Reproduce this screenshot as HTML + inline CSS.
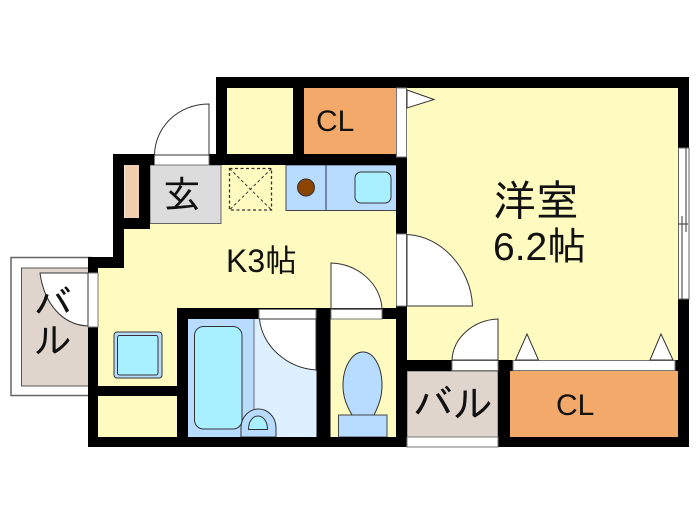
<!DOCTYPE html>
<html lang="ja"><head><meta charset="utf-8">
<style>
html,body{margin:0;padding:0;background:#fff;width:700px;height:525px;overflow:hidden}
svg{display:block}
text{font-family:"Liberation Sans","IPAGothic","Noto Sans CJK JP",sans-serif;fill:#111}
.d{fill:#fff;stroke:#333;stroke-width:1}
.g{fill:#fff;stroke:#777;stroke-width:1}
</style></head><body>
<svg width="700" height="525" viewBox="0 0 700 525" xmlns="http://www.w3.org/2000/svg">
<!-- balcony -->
<rect x="11" y="257.500" width="80" height="138" fill="#fff" stroke="#666" stroke-width="1.500"/>
<rect x="21.500" y="268" width="70" height="118" fill="#e0d5cc" stroke="#555" stroke-width="1"/>
<!-- floors -->
<polygon points="150,165 398,165 398,437 98,437 98,268 124,268 124,229 150,229" fill="#fffbc0"/>
<rect x="227" y="88" width="170" height="77" fill="#fffbc0"/>
<rect x="405" y="88" width="274" height="275" fill="#fffbc0"/>
<rect x="304" y="88" width="92.500" height="66" fill="#f2a96a"/>
<rect x="510" y="371" width="168" height="66" fill="#f2a96a"/>
<rect x="407" y="371" width="91" height="66" fill="#e0d5cc" stroke="#666" stroke-width="1"/>
<rect x="150" y="165" width="71" height="58.500" fill="#dcdcdc" stroke="#666" stroke-width="1"/>
<rect x="124.500" y="165" width="14.500" height="53" fill="#f2cfae"/>
<!-- bath -->
<rect x="188" y="319" width="130" height="118" fill="#dcf0ff"/>
<rect x="188" y="319" width="66" height="118" fill="#b8dcff"/>
<line x1="254" y1="319" x2="254" y2="410" stroke="#667" stroke-width="1"/>
<rect x="194.500" y="326.500" width="47.500" height="102.500" rx="9" fill="#a8f0ff" stroke="#333" stroke-width="1"/>
<path d="M241 437V428C241 416 250 409 258.500 409C267 409 276 416 276 428V437Z" fill="#b8dcff" stroke="#333" stroke-width="1"/>
<path d="M248.500 429.500C248.500 421 253 416 258 416C263 416 267.500 421 267.500 429.500Z" fill="#a8f0ff" stroke="#333" stroke-width="1"/>
<!-- toilet -->
<path d="M352 415C345 403 343 395 343 385C343 367 352 352 363 352C374 352 382 367 382 385C382 395 380 403 374 415Z" fill="#b8dcff" stroke="#333" stroke-width="1"/>
<rect x="338.500" y="415" width="48.500" height="22" fill="#b8dcff" stroke="#444" stroke-width="1"/>
<!-- kitchen unit -->
<rect x="286" y="165" width="110.500" height="45.500" fill="#b8dcff" stroke="#445" stroke-width="1"/>
<line x1="326" y1="165" x2="326" y2="210" stroke="#334" stroke-width="1"/>
<circle cx="306" cy="187.500" r="8.500" fill="#8b4500" stroke="#333" stroke-width="1"/>
<rect x="355" y="172" width="36" height="31" rx="6" fill="#a8f0ff" stroke="#333" stroke-width="1"/>
<!-- dashed box -->
<rect x="229.500" y="168.500" width="42" height="41.500" fill="none" stroke="#333" stroke-width="1.300" stroke-dasharray="3 2.500"/>
<path d="M229.500 168.500L271.500 210M271.500 168.500L229.500 210" fill="none" stroke="#333" stroke-width="1" stroke-dasharray="3 2.500"/>
<!-- fridge/washer -->
<rect x="114" y="332" width="48" height="46" rx="3" fill="#b8dcff" stroke="#333" stroke-width="1"/>
<rect x="117.500" y="335.500" width="40.500" height="39.500" rx="2" fill="#a8f0ff" stroke="#333" stroke-width="1"/>
<!-- walls -->
<g fill="#000">
<rect x="216" y="77" width="473" height="11"/>
<rect x="216" y="77" width="11" height="88"/>
<rect x="293" y="88" width="11" height="77"/>
<rect x="154" y="154" width="243" height="11"/>
<rect x="113" y="154" width="41" height="11"/>
<rect x="113" y="154" width="11" height="114"/>
<rect x="139" y="154" width="11" height="75"/>
<rect x="124" y="218" width="26" height="11"/>
<rect x="88" y="257" width="36" height="11"/>
<rect x="88" y="257" width="10" height="190"/>
<rect x="98" y="386" width="80" height="10"/>
<rect x="177" y="308" width="11" height="139"/>
<rect x="177" y="308" width="220" height="11"/>
<rect x="316.500" y="308" width="14" height="139"/>
<rect x="396" y="88" width="11" height="359"/>
<rect x="88" y="437" width="601" height="10"/>
<rect x="678" y="77" width="11" height="370"/>
<rect x="407" y="360" width="271" height="11"/>
<rect x="498" y="360" width="12" height="87"/>
</g>
<!-- openings -->
<rect x="154.500" y="155" width="54.500" height="10" class="g"/>
<rect x="88" y="273" width="10" height="54" class="g"/>
<rect x="259" y="309.500" width="57" height="9.500" class="g"/>
<rect x="331" y="309.500" width="51" height="9.500" class="g"/>
<rect x="396.500" y="88" width="10" height="69" class="g"/>
<rect x="396.500" y="234" width="10" height="72" class="g"/>
<rect x="452" y="360.500" width="46" height="10" class="g"/>
<rect x="513" y="360.500" width="162" height="10" class="g"/>
<rect x="407" y="437" width="91" height="10" class="g"/>
<rect x="678.500" y="148" width="10.500" height="151" fill="#fff" stroke="#666" stroke-width="1"/>
<path d="M686 148V232M682 216V299M678 224H688" fill="none" stroke="#555" stroke-width="1.200"/>
<!-- doors -->
<path class="d" d="M209 104V155H154.500C155 127 178 104 209 104Z"/>
<path class="d" d="M40 273H88V326C62 325 44 303 40 273Z"/>
<path class="d" d="M259.500 319H316V370C287 368 262 346 259.500 319Z"/>
<path class="d" d="M331 263C358 264 380 283 382 308.500H331Z"/>
<path class="d" d="M407 234.500C441 236 471 268 472.500 306H407Z"/>
<path class="d" d="M498 319V360H452C453 338 473 320 498 319Z"/>
<path class="d" d="M407 90L434 99.500L407 108Z"/>
<path class="d" d="M515.500 360L527 334L538.500 360Z"/>
<path class="d" d="M650 360L661 334L673 360Z"/>
<!-- labels -->
<text x="163" y="208" font-size="38">玄</text>
<text x="226" y="272" font-size="32">K3帖</text>
<text x="316" y="131" font-size="30">CL</text>
<text x="556" y="415" font-size="30">CL</text>
<text x="493" y="216" font-size="43">洋室</text>
<text x="493" y="260" font-size="39">6.2帖</text>
<text x="34" y="317" font-size="38">バ</text>
<text x="34" y="354" font-size="38">ル</text>
<text x="413" y="418" font-size="40">バル</text>
</svg>
</body></html>
